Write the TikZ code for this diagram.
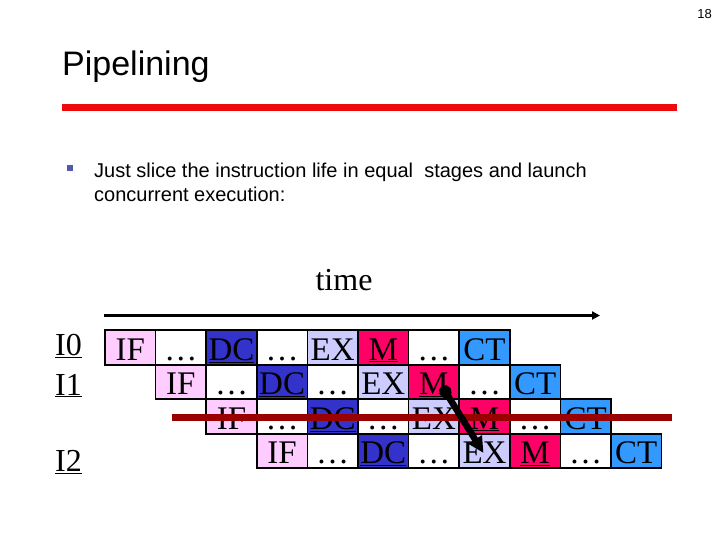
\documentclass[tikz,border=0pt]{standalone}
\usepackage{fontspec}
\setmainfont{Liberation Serif}
\setsansfont{Liberation Sans}
\usetikzlibrary{arrows.meta}
\definecolor{ifc}{RGB}{255,204,255}
\definecolor{dcc}{RGB}{51,51,204}
\definecolor{exc}{RGB}{204,204,255}
\definecolor{mc}{RGB}{255,0,102}
\definecolor{ctc}{RGB}{51,153,255}
\definecolor{titlered}{RGB}{238,10,10}
\definecolor{darkred}{RGB}{153,0,0}
\definecolor{bulletc}{RGB}{80,90,170}
\begin{document}
\begin{tikzpicture}[x=1pt,y=-1pt,
  cell/.style={draw=black, line width=1.6pt, minimum width=50.6pt, minimum height=34.5pt,
    inner sep=0pt, font=\fontsize{33}{33}\selectfont, text height=25pt, text depth=0pt},
  lab/.style={anchor=base west, inner sep=0pt, font=\fontsize{32}{32}\selectfont},
  sanstext/.style={anchor=base west, inner sep=0pt, font=\sffamily\fontsize{20}{24}\selectfont}]
\useasboundingbox (0,0) rectangle (720,540);
% page number
\node[anchor=base east, inner sep=0pt, font=\sffamily\fontsize{13}{13}\selectfont] (pg) at (712,19) {18};
% title
\node[anchor=base west, inner sep=0pt, font=\sffamily\fontsize{34}{34}\selectfont] (title) at (62,76) {Pipelining};
\fill[titlered] (62,104.5) rectangle (677,111.5);
% bullet
\fill[bulletc] (67,165) rectangle (73,171);
\node[sanstext] (txt1) at (94,178) {Just slice the instruction life in equal\ \ stages and launch};
\node[sanstext] (txt2) at (94,202) {concurrent execution:};
% time
\node[anchor=base, inner sep=0pt, font=\fontsize{32}{32}\selectfont] (time) at (344,290) {time};
\coordinate (t0) at (104,315.5);
\coordinate (t1) at (600,315.5);
\draw[line width=2.6pt, -{Triangle[length=8pt,width=8pt]}] (t0) -- (t1);
% labels
\node[lab] (i0) at (55,355) {\underline{I0}};
\node[lab] (i1) at (55,395) {\underline{I1}};
\node[lab] (i2) at (55,471.5) {\underline{I2}};
% pipeline cells
\foreach \r in {0,...,3}{
  \foreach \c/\lab/\col in {0/IF/ifc, 1/…/white, 2/{\underline{DC}}/dcc, 3/…/white,
                            4/EX/exc, 5/{\underline{M}}/mc, 6/…/white, 7/CT/ctc}{
    \node[cell, fill=\col] (r\r-\c) at ({105+(\r+\c)*50.6+25.3},{347.5+34.5*\r}) {\lab};
  }
}
% dark red line
\coordinate (d0) at (172,417.5);
\coordinate (d1) at (672,417.5);
\draw[darkred, line width=7pt] (d0) -- (d1);
% dependency arrow
\draw[line width=6.5pt, {Circle[length=13pt,width=12pt]}-{Triangle[length=16pt,width=15pt]}]
  ([xshift=8pt,yshift=-4pt]r1-5.center) -- ([xshift=-1pt,yshift=-2pt]r3-4.center);
\end{tikzpicture}
\end{document}
